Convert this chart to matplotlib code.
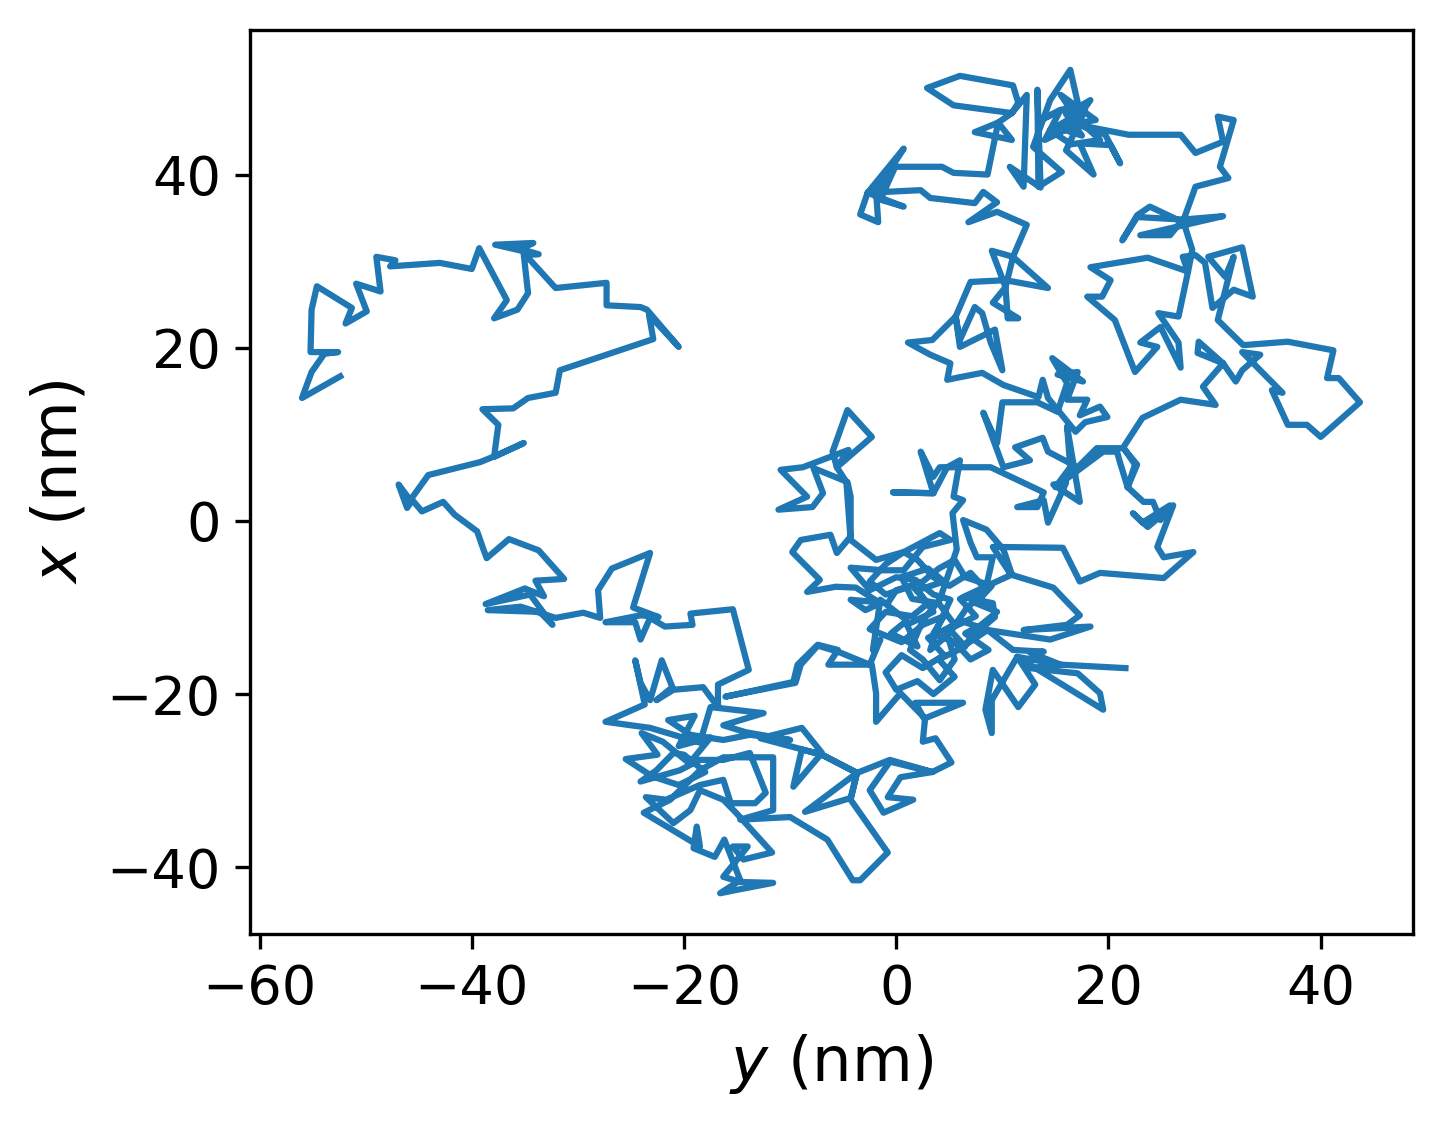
import numpy as np
import matplotlib
matplotlib.use('Agg')
import matplotlib.pyplot as plt

# trajectory, (y, x) in nm, walked region by region
west_arm = [(-52.4, 16.7), (-56.0, 14.2), (-55.1, 17.2), (-53.9, 19.3), (-52.6, 19.5), (-55.2, 19.5),
            (-55.1, 24.4), (-54.6, 27.1), (-51.3, 24.6), (-51.9, 22.8), (-49.9, 24.2), (-50.9, 27.4),
            (-48.6, 26.5), (-49.0, 30.5), (-47.2, 30.1), (-47.7, 29.4), (-43.0, 29.8), (-40.0, 29.1),
            (-39.3, 31.5), (-36.7, 25.5), (-37.9, 23.4), (-35.7, 24.4), (-34.7, 26.3), (-35.1, 30.7),
            (-33.7, 30.8), (-35.4, 31.4), (-34.2, 32.1), (-37.8, 31.9), (-35.3, 31.2), (-32.1, 26.9),
            (-27.3, 27.5), (-27.3, 24.9), (-24.1, 24.7), (-23.5, 24.4), (-20.5, 20.1), (-23.3, 23.8),
            (-22.9, 21.0), (-31.7, 17.4), (-32.1, 14.8), (-34.7, 14.2), (-36.1, 13.0), (-39.0, 12.9),
            (-37.5, 11.1), (-37.9, 7.4), (-35.1, 9.0), (-37.6, 7.6), (-39.2, 6.8), (-44.1, 5.3),
            (-45.8, 2.4), (-46.9, 4.2), (-46.1, 1.5), (-45.6, 2.4), (-44.7, 1.1), (-42.7, 2.2),
            (-41.6, 0.7), (-39.5, -1.2), (-38.9, -3.3)]

west_tangle = [(-38.6, -4.3), (-36.5, -2.1), (-33.7, -3.4), (-31.3, -6.7), (-34.0, -6.9), (-33.2, -8.7),
               (-35.0, -7.8), (-38.7, -9.6), (-34.5, -8.5), (-32.4, -12.0), (-33.6, -10.5), (-38.5, -10.3),
               (-35.4, -9.9), (-32.1, -11.2), (-29.5, -10.6), (-27.9, -11.2), (-28.1, -8.0), (-26.8, -5.5),
               (-23.2, -3.7), (-24.8, -10.0), (-22.4, -11.1), (-24.1, -10.9), (-27.4, -11.7), (-24.6, -11.7),
               (-24.1, -13.7), (-23.2, -11.2), (-21.8, -12.2), (-19.2, -12.0), (-19.4, -10.7), (-15.4, -10.2),
               (-13.9, -17.2), (-16.8, -18.9), (-16.8, -21.5)]

southwest_cluster = [(-18.2, -19.2), (-21.0, -19.5), (-22.6, -20.7), (-21.1, -19.2), (-22.1, -16.1),
                     (-23.2, -20.7), (-24.1, -18.7), (-24.6, -16.1), (-23.7, -21.2), (-27.4, -23.2),
                     (-23.2, -23.9), (-18.5, -25.6), (-17.5, -21.5), (-12.5, -22.2), (-16.3, -23.6),
                     (-14.2, -24.4), (-10.0, -25.3), (-13.8, -24.7), (-16.3, -25.3), (-19.4, -24.7),
                     (-21.5, -23.0), (-19.0, -22.5), (-20.5, -26.0), (-17.5, -25.0), (-19.5, -28.0),
                     (-22.0, -25.5), (-24.0, -24.5), (-22.5, -27.0), (-25.5, -27.5), (-23.0, -29.5),
                     (-20.5, -30.5), (-18.0, -29.0), (-20.0, -27.0),
                     (-21.0, -26.8), (-22.6, -28.8), (-24.1, -30.1), (-20.4, -28.8), (-18.5, -27.6),
                     (-16.3, -27.6), (-13.8, -26.8), (-12.3, -31.4), (-13.3, -32.6), (-15.6, -32.6),
                     (-16.3, -29.9), (-18.5, -30.5), (-21.7, -32.2), (-23.6, -31.9), (-21.0, -34.9),
                     (-19.4, -33.4), (-18.5, -31.1), (-16.3, -32.2), (-15.1, -33.7), (-11.7, -38.3),
                     (-14.4, -39.1), (-15.4, -37.6), (-14.0, -37.6), (-16.3, -41.1), (-14.7, -41.7),
                     (-11.6, -41.8), (-15.0, -42.6), (-16.6, -43.0), (-14.7, -41.5), (-16.2, -36.8),
                     (-17.1, -38.8), (-19.1, -37.8), (-18.8, -35.3), (-18.5, -37.6), (-23.8, -33.7),
                     (-21.3, -32.2), (-18.5, -28.8), (-16.3, -27.3), (-12.5, -27.3), (-11.6, -27.3),
                     (-11.6, -33.4), (-14.7, -34.5), (-10.0, -34.2)]

south_loop = [(-6.5, -36.8), (-4.1, -41.5), (-3.4, -41.5), (-0.8, -38.3), (-4.3, -32.2), (-3.7, -29.1),
              (-8.6, -33.6), (-4.3, -32.0), (-3.7, -29.1), (-7.0, -27.0), (-12.8, -25.1), (-8.9, -23.9),
              (-7.0, -26.8), (-9.7, -30.7), (-8.9, -26.4), (-7.0, -27.0), (-3.7, -29.1), (-0.6, -27.6),
              (3.4, -29.0), (0.4, -29.6), (-0.8, -31.9), (1.6, -32.2), (-1.2, -33.7), (-2.5, -31.1),
              (-0.6, -27.8), (3.4, -29.0), (5.2, -27.9), (3.7, -25.1), (2.5, -25.5), (2.7, -23.0),
              (1.8, -21.0), (6.3, -21.0), (2.7, -22.8), (0.4, -19.9), (-1.9, -23.2), (-1.9, -19.9),
              (-2.3, -16.6), (-6.4, -16.6), (-5.5, -14.9), (-7.4, -14.3), (-9.3, -16.6), (-9.7, -18.6),
              (-16.1, -20.3), (-9.5, -18.7), (-9.0, -16.6), (-7.4, -14.4), (-5.5, -15.1), (-2.5, -16.6),
              (-1.5, -13.7), (-2.2, -14.9)]

central_core = [(-1.5, -9.1), (1.0, -11.5), (-0.5, -13.0), (2.0, -14.5), (1.0, -12.0), (3.5, -10.5),
                (2.0, -8.0), (4.5, -7.0), (3.0, -5.5), (0.5, -6.5), (1.5, -9.0), (4.0, -9.5),
                (5.5, -12.0), (3.0, -13.5), (4.5, -15.5), (2.5, -17.0), (0.5, -15.5), (-1.0, -17.5),
                (0.0, -19.5), (2.0, -18.5), (3.5, -20.0), (5.5, -18.0), (4.0, -16.0), (6.5, -14.5),
                (5.0, -12.5), (7.5, -11.0), (6.0, -9.0), (8.5, -8.0), (7.0, -6.0), (5.0, -7.5),
                (3.5, -6.5), (2.0, -4.5), (0.7, -3.6), (-1.0, -5.0), (-2.5, -7.0), (-1.0, -8.5),
                (1.5, -7.5), (3.0, -9.5), (1.5, -11.0), (-1.0, -10.5), (-2.5, -12.5), (0.5, -14.0),
                (2.5, -12.0), (4.5, -11.0), (3.5, -13.0), (5.5, -14.0), (7.0, -16.0), (8.7, -14.9),
                (6.5, -13.0), (8.0, -12.0), (9.5, -10.5), (7.5, -9.5), (9.0, -7.5), (6.5, -6.5),
                (5.5, -4.5), (4.0, -5.5), (2.5, -7.0), (0.0, -8.0),
                (-0.8, -9.5), (-4.3, -9.1), (-2.9, -10.3), (-1.5, -9.5), (-3.8, -7.7), (-5.7, -7.6),
                (-8.4, -8.2), (-7.2, -6.8), (-9.8, -3.6), (-9.0, -2.2), (-6.2, -1.6), (-5.6, -3.7),
                (-4.3, -1.8), (-4.3, 2.8), (-4.6, 4.5), (-7.8, 6.1), (-6.9, 3.2), (-7.9, 1.6),
                (-11.1, 1.3), (-8.4, 2.8), (-10.9, 5.9), (-8.8, 6.2), (-4.5, 8.2), (-5.6, 6.2),
                (-6.0, 8.0), (-4.6, 12.8), (-2.3, 9.7), (-5.6, 6.2), (-4.7, 4.5), (-4.3, -2.2),
                (-1.9, -4.5), (0.7, -3.6), (4.1, -1.4), (5.1, -2.2), (2.5, -3.0), (0.7, -5.7),
                (-1.2, -5.7), (-4.3, -5.4), (-2.5, -8.0), (0.0, -6.5), (1.8, -6.8), (3.5, -8.5),
                (5.1, -9.1), (4.0, -12.0), (3.2, -14.9), (5.0, -13.0), (6.5, -10.3), (8.4, -8.0),
                (9.1, -4.2), (7.6, -4.2), (7.0, -2.5), (6.3, 0.1), (8.5, -1.0), (10.1, -3.3),
                (10.9, -6.2), (9.1, -7.2), (6.3, -8.8), (9.1, -9.5), (9.3, -11.1), (7.5, -13.0),
                (6.3, -14.5), (8.6, -12.6), (6.0, -11.5), (4.7, -12.6), (5.5, -16.0), (4.1, -18.4),
                (2.5, -16.0), (1.3, -14.9), (2.5, -11.5), (4.1, -9.1)]

middle_rise = [(5.7, -3.3), (5.3, 0.9), (6.3, 2.4), (5.4, 2.8), (6.0, 7.0), (4.8, 6.2), (3.5, 3.2),
               (-0.3, 3.3), (3.5, 3.2), (2.3, 8.0), (3.5, 5.1), (4.1, 6.2), (8.9, 6.2), (13.9, 3.3),
               (13.3, 1.6), (11.4, 1.6), (13.9, 2.4), (14.3, -0.2), (16.0, 4.4), (14.8, 4.2), (17.3, 2.2),
               (16.1, 10.9), (16.4, 6.2), (15.0, 3.9), (19.5, 8.0), (20.8, 8.0), (21.1, 6.7), (21.8, 3.9),
               (22.7, 6.5), (21.4, 8.4), (18.9, 8.4), (17.1, 6.2), (14.3, 8.0), (13.8, 9.6), (11.2, 8.5),
               (12.6, 7.0), (10.1, 6.2), (8.2, 12.5), (9.5, 9.0), (10.0, 13.7), (13.3, 13.7), (15.2, 12.6),
               (16.1, 15.9), (14.7, 18.8), (17.6, 16.1), (15.2, 16.9), (17.1, 17.2), (16.1, 14.0),
               (18.0, 14.0), (17.3, 12.2), (19.2, 13.2), (19.9, 12.0), (17.8, 11.4), (16.9, 10.3),
               (14.3, 14.2), (13.8, 16.3), (13.4, 14.3), (10.1, 15.7), (8.1, 17.1), (6.0, 16.6)]

north_arm = [(4.8, 16.3), (5.1, 18.2), (3.2, 19.2), (1.1, 20.6), (3.4, 20.9), (5.6, 23.6), (6.0, 20.9),
             (7.4, 24.7), (8.1, 24.0), (8.9, 20.6), (10.0, 17.4), (9.3, 22.1), (6.0, 20.1), (5.6, 23.6),
             (7.0, 27.6), (10.3, 27.8), (14.3, 26.9), (11.0, 30.5), (9.0, 31.2), (10.3, 27.0), (9.1, 25.2),
             (11.5, 23.4), (10.5, 23.4), (10.3, 27.0), (11.0, 30.5), (12.3, 34.2), (9.5, 35.7), (6.8, 34.5),
             (9.5, 36.8), (8.2, 38.0), (7.4, 36.7), (3.2, 37.3), (2.3, 38.2), (-2.7, 37.9), (0.7, 43.0),
             (-1.9, 38.0), (-1.7, 34.5), (-3.4, 35.4), (-2.7, 37.9), (0.7, 36.3), (-1.5, 37.1), (-0.1, 40.9),
             (4.3, 40.9), (5.4, 40.2), (8.6, 40.0), (9.6, 46.0), (7.4, 44.9), (10.9, 44.0), (9.6, 46.0),
             (10.9, 47.1), (5.4, 48.0), (2.9, 50.0), (6.0, 51.4), (11.0, 50.3), (11.5, 48.3), (10.9, 47.1),
             (12.3, 49.2), (12.0, 38.6), (10.7, 40.9), (13.6, 38.5), (13.3, 49.8), (13.4, 38.6), (15.6, 40.3),
             (12.9, 43.2), (14.5, 48.6), (16.4, 52.1), (17.1, 48.3), (13.6, 46.3), (15.5, 47.5), (14.0, 44.0),
             (16.5, 45.5), (18.3, 48.6), (16.0, 47.0), (17.5, 44.5), (15.0, 45.5), (18.8, 46.3), (15.5, 49.2),
             (17.0, 46.5), (19.2, 44.0), (16.5, 43.5), (14.5, 45.1), (17.8, 47.5), (16.0, 42.8), (18.6, 40.0),
             (17.3, 43.6), (20.2, 43.4), (21.1, 41.3), (19.7, 44.6), (17.3, 45.7), (21.9, 44.6), (26.8, 44.6),
             (28.2, 42.5), (30.8, 43.8), (30.3, 46.7), (31.8, 46.3), (30.5, 40.9), (31.3, 39.6), (28.2, 38.6),
             (27.0, 34.5)]

east_arm = [(23.9, 36.3), (22.7, 35.3), (21.3, 32.4), (22.7, 35.1), (27.0, 34.8), (30.8, 35.2), (23.0, 33.0),
            (25.8, 33.0), (27.0, 34.8), (27.9, 31.3), (27.5, 28.8), (23.7, 30.4), (18.3, 29.3), (20.2, 27.8),
            (19.4, 25.9), (18.0, 25.9), (20.6, 23.2), (22.5, 17.2), (24.6, 20.1), (23.0, 20.6), (24.9, 22.4),
            (26.8, 17.7), (26.6, 20.6), (24.7, 24.0), (26.6, 23.6), (27.5, 28.8), (27.0, 30.5), (28.2, 30.7),
            (29.1, 29.8), (29.8, 24.6), (31.8, 26.7), (33.6, 25.9), (32.6, 31.6), (29.4, 30.5), (31.0, 28.2),
            (31.8, 30.5), (30.3, 23.2), (32.7, 20.3), (36.9, 20.7), (41.2, 19.7), (40.6, 16.5), (41.7, 16.5),
            (43.7, 13.7), (40.0, 9.7), (38.7, 11.1), (36.9, 11.1), (35.4, 15.1), (36.4, 14.8), (32.6, 19.5),
            (34.3, 19.2), (32.6, 17.4), (32.0, 16.1), (30.8, 18.2), (28.5, 20.7), (28.4, 19.4), (30.8, 18.2),
            (28.9, 15.5), (30.1, 13.4), (26.8, 14.0), (23.2, 11.9), (21.4, 8.5)]

east_low = [(22.5, 6.5), (21.8, 3.9), (23.3, 2.2), (24.2, 2.2), (24.9, 0.1), (25.8, 1.8), (23.2, -0.2),
            (22.3, 0.9), (23.7, -0.7), (26.1, 1.8), (24.6, -3.0), (25.2, -4.2), (28.0, -3.6), (25.2, -6.6),
            (19.2, -6.0), (17.3, -7.0), (15.7, -3.1), (9.1, -3.0), (10.8, -6.2)]

south_east = [(14.8, -7.7), (17.3, -10.9), (16.1, -12.0), (12.0, -12.6), (18.3, -12.2), (14.5, -13.7),
              (8.6, -12.6), (11.0, -14.9), (13.9, -15.1), (12.6, -15.2), (15.5, -16.6), (11.4, -15.7),
              (9.0, -20.7), (9.0, -24.5), (8.4, -21.8), (9.1, -17.2), (11.5, -21.5), (13.1, -18.9),
              (11.4, -15.7), (19.5, -21.8), (19.2, -19.9), (17.1, -17.6), (12.6, -17.0), (15.5, -16.6),
              (21.6, -17.0)]

segments = [west_arm, west_tangle, southwest_cluster, south_loop, central_core,
            middle_rise, north_arm, east_arm, east_low, south_east]
path = np.array([p for seg in segments for p in seg])
y_nm = path[:, 0]
x_nm = path[:, 1]

fig, ax = plt.subplots(figsize=(1442 / 300, 1127 / 300), dpi=300)
ax.plot(y_nm, x_nm, color='#1f77b4', lw=1.5)
ax.set_xlim(-60.9, 48.7)
ax.set_ylim(-47.7, 56.7)
ax.set_xticks([-60, -40, -20, 0, 20, 40])
ax.set_yticks([-40, -20, 0, 20, 40])
ax.set_xlabel(r'$y$ (nm)', fontsize=15)
ax.set_ylabel(r'$x$ (nm)', fontsize=15)
ax.tick_params(labelsize=13)
fig.subplots_adjust(left=0.1734, right=0.9799, top=0.9734, bottom=0.1713)
fig.savefig('out.png', dpi=300)
